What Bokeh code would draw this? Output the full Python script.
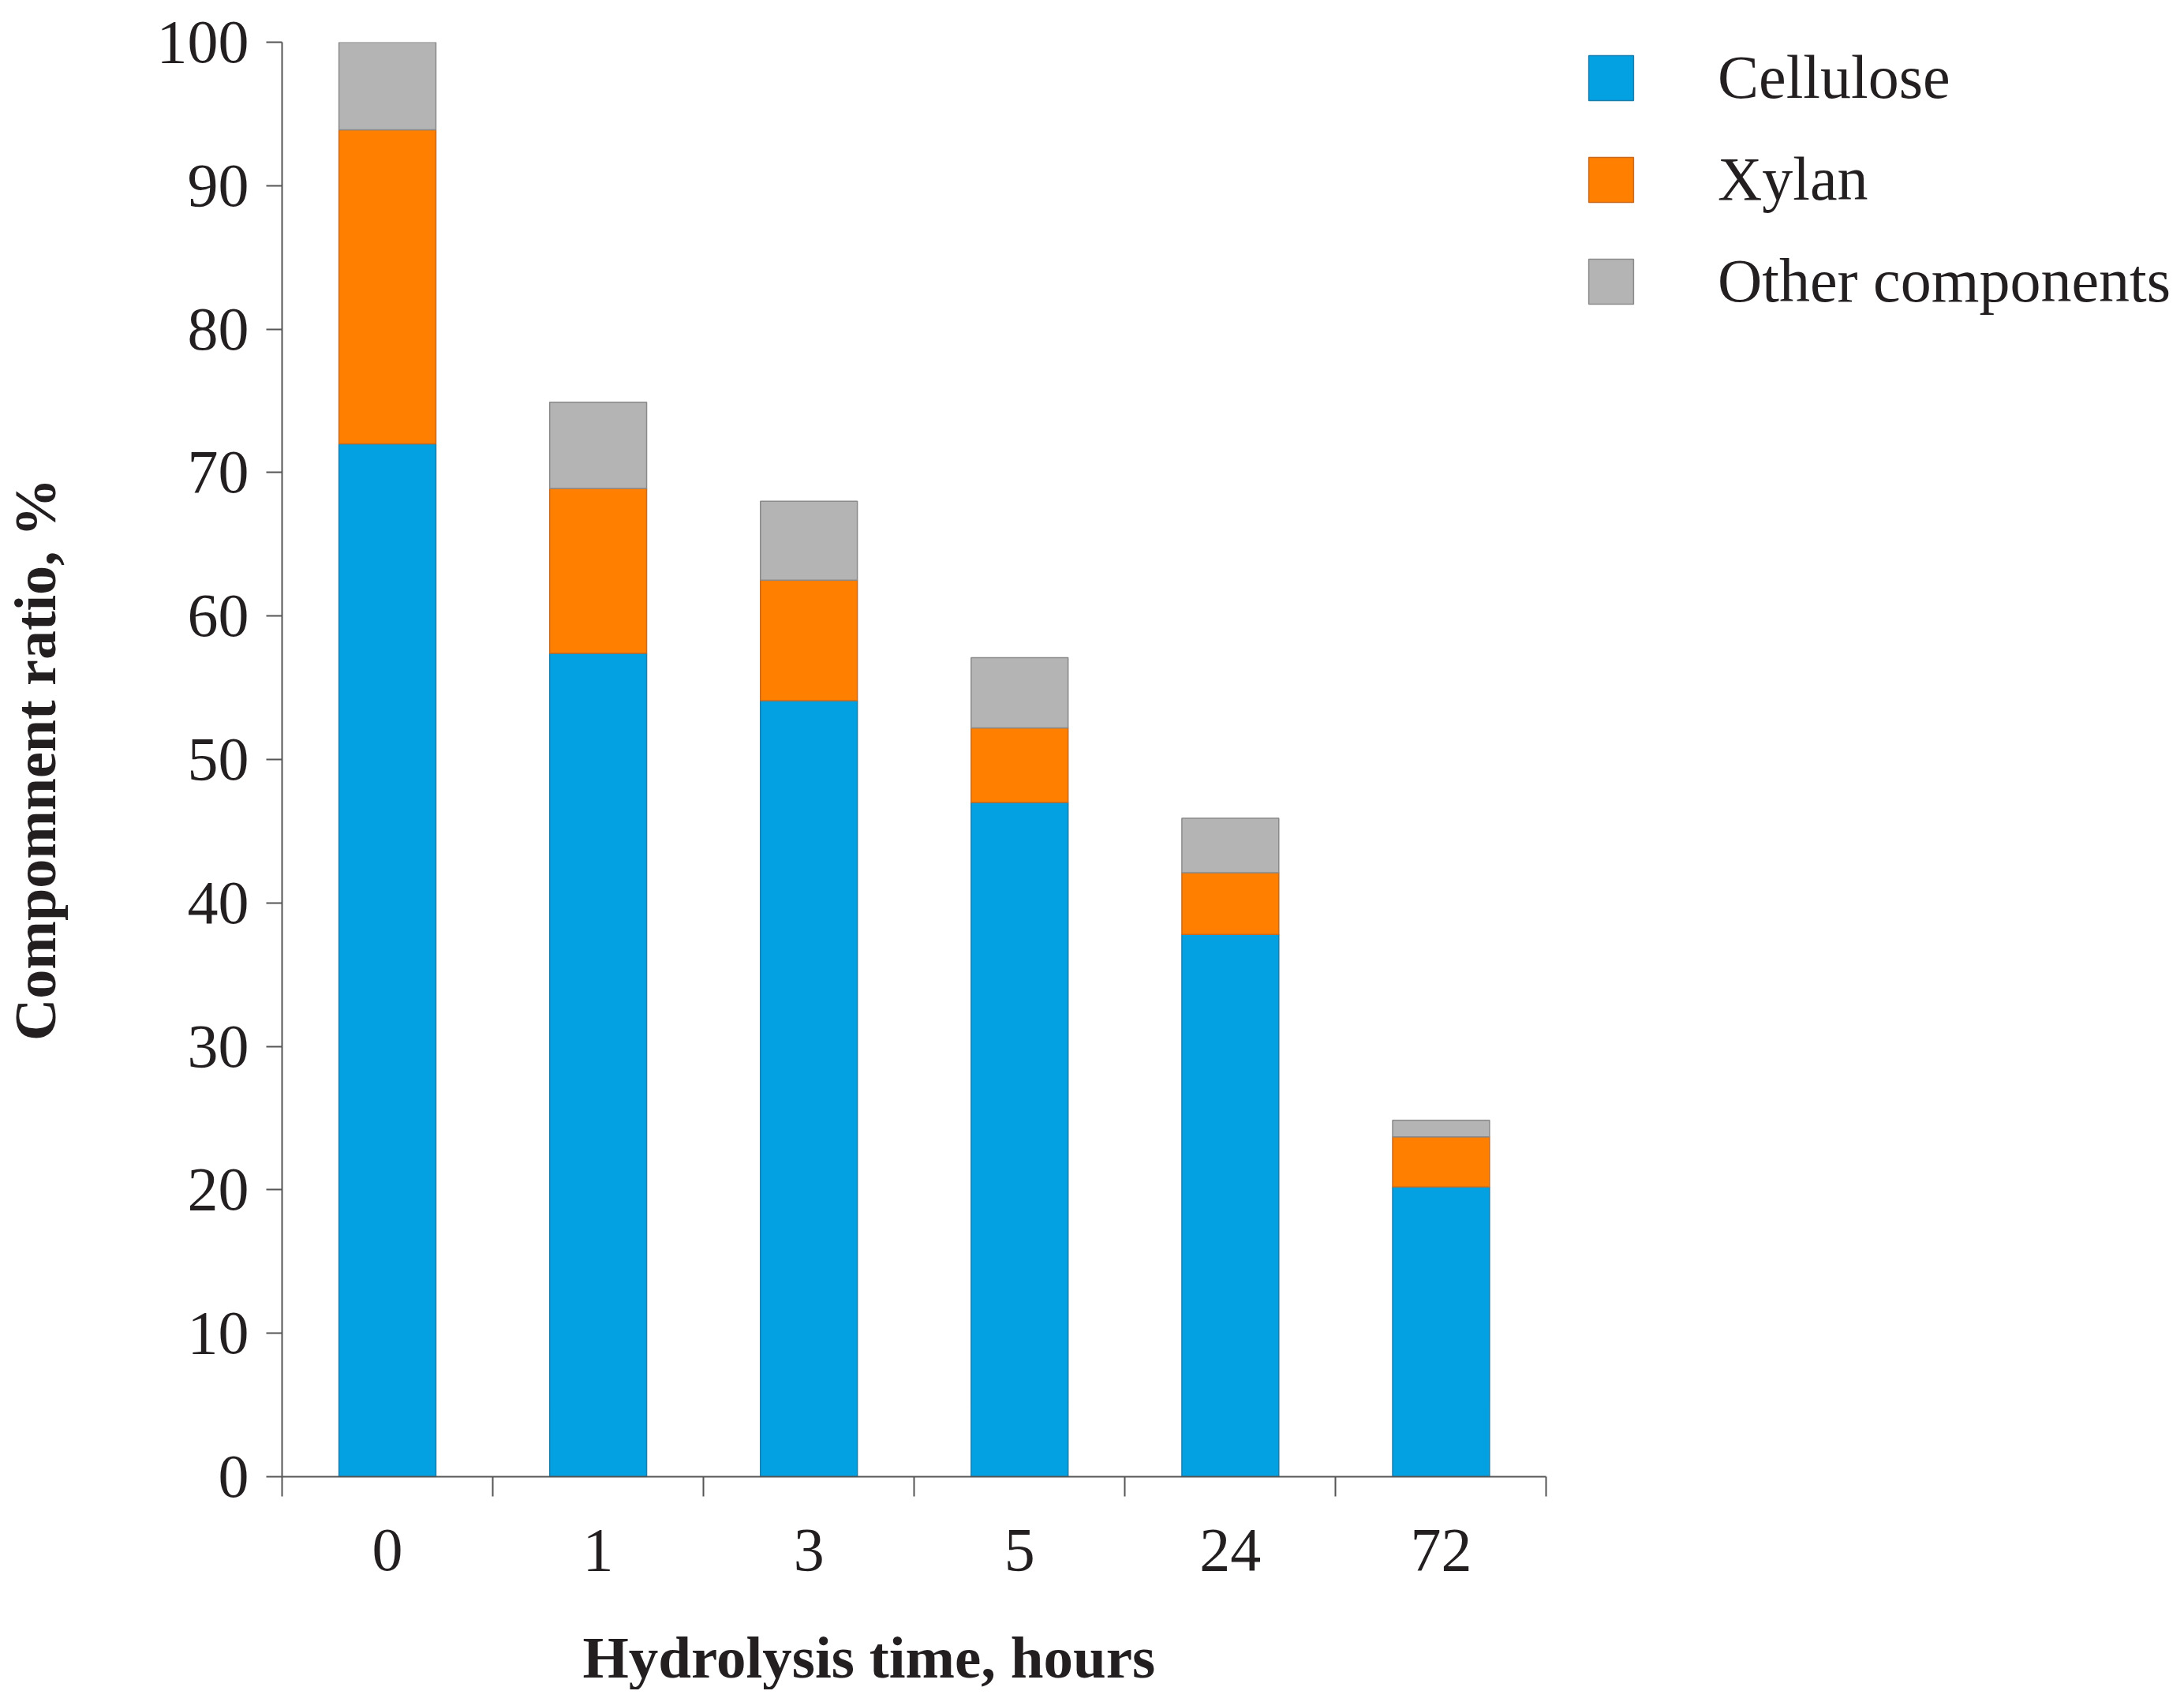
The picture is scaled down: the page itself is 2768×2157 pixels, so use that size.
import numpy as np
from bokeh.embed import file_html
from bokeh.models import FixedTicker, Legend, LegendItem, LinearAxis, Title
from bokeh.plotting import figure
from bokeh.resources import INLINE

# Data
hours = ["0", "1", "3", "5", "24", "72"]
cellulose = [72.0, 57.4, 54.1, 47.0, 37.8, 20.2]
xylan = [21.9, 11.5, 8.4, 5.2, 4.3, 3.5]
other = [6.1, 6.0, 5.5, 4.9, 3.8, 1.15]

series = ["Cellulose", "Xylan", "Other components"]
fills = ["#03a1e2", "#ff8000", "#b3b4b3"]
edges = ["#1b7fae", "#c86a20", "#8a8a8a"]

FONT = "Liberation Serif"
TEXT = "#231f20"

x = np.arange(len(hours)) + 0.5
data = {"x": x, "Cellulose": cellulose, "Xylan": xylan, "Other components": other}

p = figure(
    width=2750,
    height=2141,
    x_range=(0, 8.96),
    y_range=(0, 100),
    output_backend="svg",
    toolbar_location=None,
    min_border_left=352,
    min_border_right=0,
    min_border_top=53,
    min_border_bottom=266,
)
p.outline_line_color = None
p.grid.grid_line_color = None

renderers = p.vbar_stack(
    series,
    x="x",
    width=0.46,
    source=data,
    fill_color=fills,
    line_color=edges,
    line_width=1.5,
)

# x axis: ticks at category borders, labels in between
xa = p.xaxis[0]
xa.bounds = (0, len(hours))
xa.ticker = FixedTicker(ticks=list(x), minor_ticks=list(range(len(hours) + 1)))
xa.major_label_overrides = {float(v): h for v, h in zip(x, hours)}
xa.major_tick_out = 0
xa.major_tick_in = 0
xa.minor_tick_in = 0
xa.minor_tick_out = 25
xa.minor_tick_line_color = "#555555"
xa.minor_tick_line_width = 2
xa.major_label_standoff = 42

# empty axis used only as a gap between tick labels and the x title
gap = LinearAxis(
    ticker=FixedTicker(ticks=[]),
    axis_line_color=None,
    major_tick_out=0,
    major_tick_in=0,
    minor_tick_out=0,
    minor_tick_in=0,
    axis_label=" ",
    axis_label_standoff=50,
    axis_label_text_font_size="10px",
)
p.add_layout(gap, "below")

# x title sits a little left of the axis centre, as in the original
p.add_layout(
    Title(
        text="Hydrolysis time, hours",
        align="left",
        offset=381,
        standoff=0,
        text_font=FONT,
        text_font_size="75px",
        text_font_style="bold",
        text_color=TEXT,
    ),
    "below",
)

ya = p.yaxis[0]
ya.ticker = FixedTicker(ticks=list(range(0, 101, 10)))
ya.major_tick_out = 20
ya.major_tick_in = 0
ya.minor_tick_out = 0
ya.minor_tick_in = 0
ya.major_tick_line_color = "#555555"
ya.major_tick_line_width = 2
ya.major_label_standoff = 22
ya.axis_label = "Compomnent ratio, %"
ya.axis_label_standoff = 110
ya.axis_label_text_font = FONT
ya.axis_label_text_font_size = "74px"
ya.axis_label_text_font_style = "bold"
ya.axis_label_text_color = TEXT

for ax in (xa, ya):
    ax.axis_line_color = "#555555"
    ax.axis_line_width = 2
    ax.major_label_text_font = FONT
    ax.major_label_text_font_size = "78px"
    ax.major_label_text_color = TEXT

legend = Legend(
    items=[LegendItem(label=s, renderers=[r]) for s, r in zip(series, renderers)],
    location=(1649, 1469),
    orientation="vertical",
    glyph_width=71,
    glyph_height=71,
    label_height=92,
    label_standoff=100,
    spacing=37,
    padding=0,
    margin=0,
    border_line_color=None,
    background_fill_alpha=0,
    label_text_font=FONT,
    label_text_font_size="78px",
    label_text_color=TEXT,
)
p.add_layout(legend)

open("out.html", "w").write(file_html(p, INLINE))
